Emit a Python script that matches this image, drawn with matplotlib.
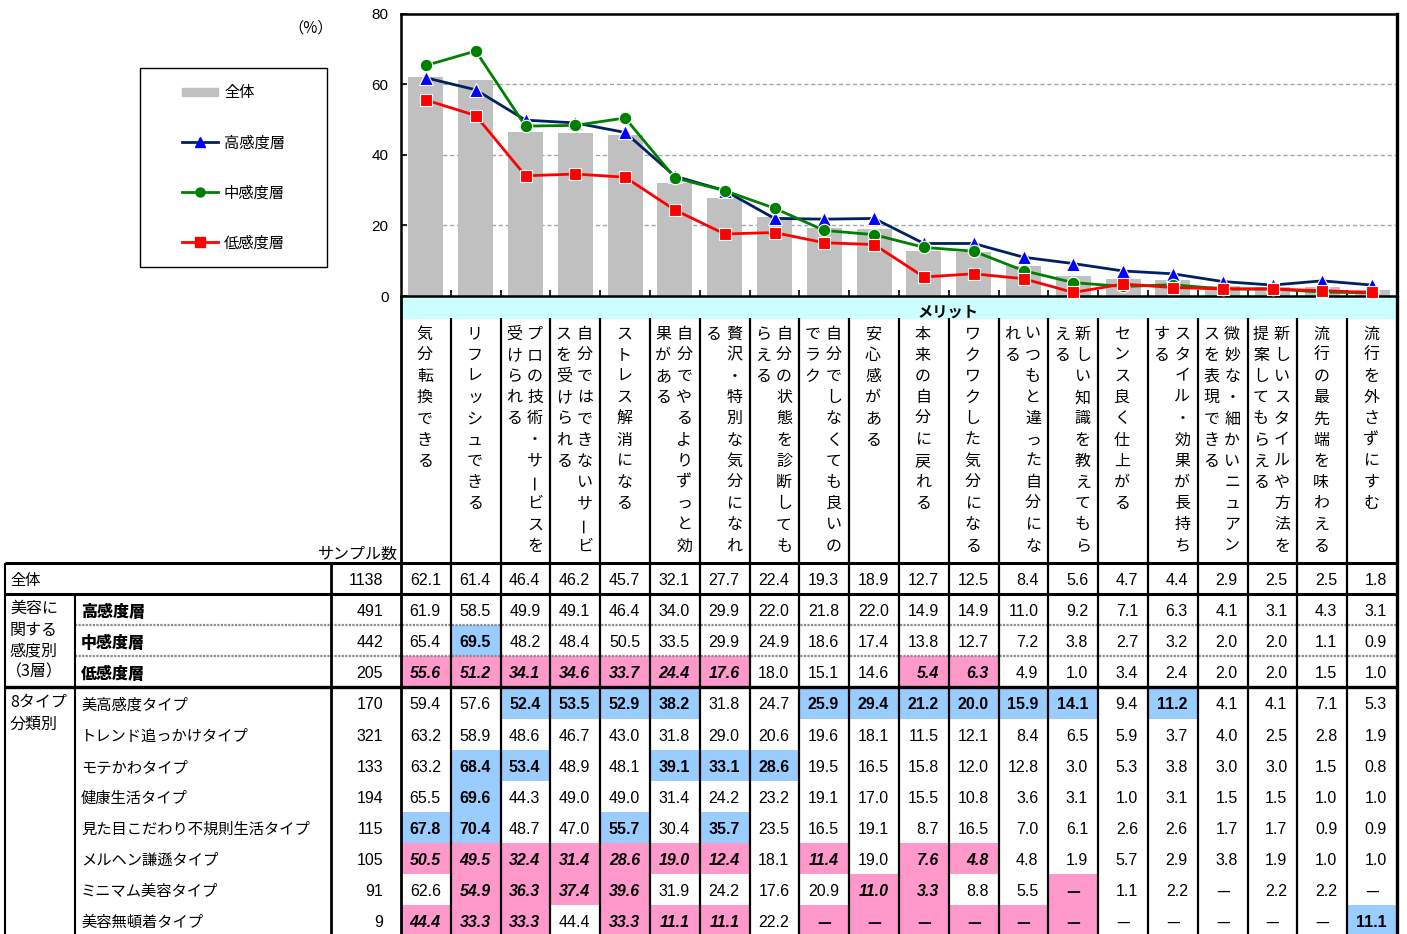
import matplotlib
matplotlib.use('Agg')
import matplotlib.pyplot as plt
from matplotlib.patches import Rectangle
from matplotlib.lines import Line2D
from matplotlib import font_manager

JP = 'Noto Sans CJK JP'
_names = {f.name for f in font_manager.fontManager.ttflist}
NUM = 'Liberation Sans Narrow' if 'Liberation Sans Narrow' in _names else 'Liberation Sans'
plt.rcParams['font.family'] = [JP, 'DejaVu Sans']

# ---------------- data ----------------
merit_labels = [
    ["気分転換できる"],
    ["リフレッシュできる"],
    ["プロの技術・サービスを", "受けられる"],
    ["自分ではできないサービ", "スを受けられる"],
    ["ストレス解消になる"],
    ["自分でやるよりずっと効", "果がある"],
    ["贅沢・特別な気分になれ", "る"],
    ["自分の状態を診断しても", "らえる"],
    ["自分でしなくても良いの", "でラク"],
    ["安心感がある"],
    ["本来の自分に戻れる"],
    ["ワクワクした気分になる"],
    ["いつもと違った自分にな", "れる"],
    ["新しい知識を教えてもら", "える"],
    ["センス良く仕上がる"],
    ["スタイル・効果が長持ち", "する"],
    ["微妙な・細かいニュアン", "スを表現できる"],
    ["新しいスタイルや方法を", "提案してもらえる"],
    ["流行の最先端を味わえる"],
    ["流行を外さずにすむ"],
]

total_n = 1138
total = [62.1, 61.4, 46.4, 46.2, 45.7, 32.1, 27.7, 22.4, 19.3, 18.9,
         12.7, 12.5, 8.4, 5.6, 4.7, 4.4, 2.9, 2.5, 2.5, 1.8]

layer_names = ["高感度層", "中感度層", "低感度層"]
layer_n = [491, 442, 205]
high = [61.9, 58.5, 49.9, 49.1, 46.4, 34.0, 29.9, 22.0, 21.8, 22.0,
        14.9, 14.9, 11.0, 9.2, 7.1, 6.3, 4.1, 3.1, 4.3, 3.1]
mid = [65.4, 69.5, 48.2, 48.4, 50.5, 33.5, 29.9, 24.9, 18.6, 17.4,
       13.8, 12.7, 7.2, 3.8, 2.7, 3.2, 2.0, 2.0, 1.1, 0.9]
low = [55.6, 51.2, 34.1, 34.6, 33.7, 24.4, 17.6, 18.0, 15.1, 14.6,
       5.4, 6.3, 4.9, 1.0, 3.4, 2.4, 2.0, 2.0, 1.5, 1.0]

type_names = ["美高感度タイプ", "トレンド追っかけタイプ", "モテかわタイプ", "健康生活タイプ",
              "見た目こだわり不規則生活タイプ", "メルヘン謙遜タイプ", "ミニマム美容タイプ", "美容無頓着タイプ"]
type_n = [170, 321, 133, 194, 115, 105, 91, 9]
N = None  # no answer ("—")
type_vals = [
    [59.4, 57.6, 52.4, 53.5, 52.9, 38.2, 31.8, 24.7, 25.9, 29.4, 21.2, 20.0, 15.9, 14.1, 9.4, 11.2, 4.1, 4.1, 7.1, 5.3],
    [63.2, 58.9, 48.6, 46.7, 43.0, 31.8, 29.0, 20.6, 19.6, 18.1, 11.5, 12.1, 8.4, 6.5, 5.9, 3.7, 4.0, 2.5, 2.8, 1.9],
    [63.2, 68.4, 53.4, 48.9, 48.1, 39.1, 33.1, 28.6, 19.5, 16.5, 15.8, 12.0, 12.8, 3.0, 5.3, 3.8, 3.0, 3.0, 1.5, 0.8],
    [65.5, 69.6, 44.3, 49.0, 49.0, 31.4, 24.2, 23.2, 19.1, 17.0, 15.5, 10.8, 3.6, 3.1, 1.0, 3.1, 1.5, 1.5, 1.0, 1.0],
    [67.8, 70.4, 48.7, 47.0, 55.7, 30.4, 35.7, 23.5, 16.5, 19.1, 8.7, 16.5, 7.0, 6.1, 2.6, 2.6, 1.7, 1.7, 0.9, 0.9],
    [50.5, 49.5, 32.4, 31.4, 28.6, 19.0, 12.4, 18.1, 11.4, 19.0, 7.6, 4.8, 4.8, 1.9, 5.7, 2.9, 3.8, 1.9, 1.0, 1.0],
    [62.6, 54.9, 36.3, 37.4, 39.6, 31.9, 24.2, 17.6, 20.9, 11.0, 3.3, 8.8, 5.5, N, 1.1, 2.2, N, 2.2, 2.2, N],
    [44.4, 33.3, 33.3, 44.4, 33.3, 11.1, 11.1, 22.2, N, N, N, N, N, N, N, N, N, N, N, 11.1],
]

# ---------------- layout ----------------
W, H = 1407, 934
fig = plt.figure(figsize=(W / 100, H / 100), dpi=100)
bg = fig.add_axes([0, 0, 1, 1], zorder=0)
bg.set_xlim(0, W)
bg.set_ylim(H, 0)
bg.axis('off')

X0, X1 = 401, 1397
ncol = len(total)
cw = (X1 - X0) / ncol
edges = [X0 + i * cw for i in range(ncol + 1)]
centers = [X0 + (i + 0.5) * cw for i in range(ncol)]
PT, PB = 14, 296
DY = 2  # baseline nudge for table text

BLUE_C = '#99CCFF'
PINK_C = '#FF99CC'

# ---------------- chart ----------------
ax = fig.add_axes([X0 / W, 1 - PB / H, (X1 - X0) / W, (PB - PT) / H], zorder=2)
xs = list(range(ncol))
ax.bar(xs, total, width=0.7, color='#C0C0C0', zorder=2, label='全体')
ax.plot(xs, high, color='#002060', lw=2.0, marker='^', ms=9.5, mfc='#0000FF',
        mec='white', mew=0.8, zorder=3, clip_on=False)
ax.plot(xs, mid, color='#008000', lw=2.0, marker='o', ms=9, mfc='#008000',
        mec='white', mew=0.8, zorder=4, clip_on=False)
ax.plot(xs, low, color='#FF0000', lw=2.0, marker='s', ms=8, mfc='#FF0000',
        mec='white', mew=0.8, zorder=5, clip_on=False)
ax.set_xlim(-0.5, ncol - 0.5)
ax.set_ylim(0, 80)
ax.set_yticks([0, 20, 40, 60, 80])
ax.set_yticklabels(['0', '20', '40', '60', '80'], family='Liberation Sans', fontsize=11)
ax.set_xticks([i + 0.5 for i in range(ncol - 1)])
ax.set_xticklabels([])
ax.tick_params(axis='both', direction='in', length=4, width=1.2, color='black')
ax.tick_params(axis='y', pad=9)
for y in (20, 40, 60):
    ax.axhline(y, color='#A6A6A6', lw=1.0, ls=(0, (3, 2)), zorder=1)
for s in ('left', 'top', 'bottom'):
    ax.spines[s].set_linewidth(1.8)
ax.spines['right'].set_linewidth(2.4)

# (%) and legend
bg.text(333, 28, '（%）', ha='right', va='center', fontsize=11)
bg.add_patch(Rectangle((140, 68), 187, 199, fill=False, ec='black', lw=1.0))
bg.add_patch(Rectangle((182, 88), 36, 8, color='#C0C0C0'))
bg.text(224, 93, '全体', ha='left', va='center', fontsize=11)
leg_specs = [(142, '#002060', '^', '#0000FF', 7, layer_names[0]),
             (192, '#008000', 'o', '#008000', 6.5, layer_names[1]),
             (242, '#FF0000', 's', '#FF0000', 6.5, layer_names[2])]
for y, lc, mk, mc, ms, name in leg_specs:
    bg.add_line(Line2D([182, 218], [y, y], color=lc, lw=2.0))
    bg.add_line(Line2D([200], [y], marker=mk, ms=ms, mfc=mc, mec=mc, ls='none'))
    bg.text(224, y + 1, name, ha='left', va='center', fontsize=11)

# ---------------- header ----------------
bg.add_patch(Rectangle((X0, 297), X1 - X0, 21, color='#CCFFFF', zorder=1))
bg.text(948, 312, 'メリット', ha='center', va='center', fontsize=11,
        fontweight='bold', zorder=3)

pitch = 21.0
char_step = 21.2
for j, cols in enumerate(merit_labels):
    n = len(cols)
    for k, s in enumerate(cols):
        x = centers[j] - 1 + (n - 1) / 2 * pitch - k * pitch
        for i, ch in enumerate(s):
            y = 334 + i * char_step
            rot = 90 if ch == 'ー' else 0
            bg.text(x, y, ch, ha='center', va='center', fontsize=11.5, rotation=rot, zorder=3)

bg.text(398, 552 + DY, 'サンプル数', ha='right', va='center', fontsize=11.5)

# ---------------- table ----------------
RT = 563
RH = 31.1
rows = [("全体", total_n, total)] + \
       list(zip(layer_names, layer_n, [high, mid, low])) + \
       list(zip(type_names, type_n, type_vals))

for r, (name, n, vals) in enumerate(rows):
    top = RT + r * RH
    yc = top + RH / 2 + DY
    if r == 0:
        bg.text(10, yc, name, ha='left', va='center', fontsize=11)
    else:
        bold = 1 <= r <= 3
        bg.text(81, yc, name, ha='left', va='center', fontsize=11.5 if bold else 11,
                fontweight='heavy' if bold else 'normal')
    bg.text(383, yc, str(n), ha='right', va='center', fontsize=11.5, family=NUM)
    for j, v in enumerate(vals):
        vv = 0.0 if v is None else v
        diff = round(vv - total[j], 1)
        style = None
        if r > 0 and diff >= 5.0:
            style = 'blue'
        elif r > 0 and diff <= -5.0:
            style = 'pink'
        if style:
            bg.add_patch(Rectangle((edges[j], top), cw, RH,
                                   color=BLUE_C if style == 'blue' else PINK_C, zorder=1, lw=0))
        weight = 'bold' if style else 'normal'
        fstyle = 'italic' if style == 'pink' else 'normal'
        if v is None:
            bg.text(centers[j], yc, '—', ha='center', va='center', fontsize=11,
                    fontweight=weight, zorder=3)
        else:
            bg.text(edges[j + 1] - 10, yc, f'{v:.1f}', ha='right', va='center',
                    fontsize=11.5, family=NUM, fontweight=weight, style=fstyle, zorder=3)

for txt, y in [('美容に', 606), ('関する', 628), ('感度別', 649), ('8タイプ', 700), ('分類別', 722)]:
    bg.text(10, y + DY, txt, ha='left', va='center', fontsize=11.5)
bg.text(6, 670 + DY, '（3層）', ha='left', va='center', fontsize=11.5)

# grid lines
def hl(y, xa, xb, lw=2.2, color='black', ls='-'):
    bg.add_line(Line2D([xa, xb], [y, y], color=color, lw=lw, ls=ls, zorder=4,
                       solid_capstyle='butt'))

def vl(x, ya, yb, lw=1.6, color='black'):
    bg.add_line(Line2D([x, x], [ya, yb], color=color, lw=lw, zorder=4,
                       solid_capstyle='butt'))

hl(RT, 5, X1)
hl(RT + RH, 5, X1)
hl(RT + 2 * RH, 75, X1, lw=1.6, color='#8C8C8C', ls=(0, (1, 0.6)))
hl(RT + 3 * RH, 75, X1, lw=1.6, color='#8C8C8C', ls=(0, (1, 0.6)))
hl(RT + 4 * RH, 5, X1, lw=2.4)

vl(5, RT, H, lw=1.5)
vl(75, RT + RH, H, lw=1.5)
vl(331, RT, H, lw=2.0)
vl(X0, PB, H, lw=2.0)
for e in edges[1:-1]:
    vl(e, 318, H, lw=1.6)
vl(X1, PB, H, lw=2.4)

fig.savefig('out.png', dpi=100)
